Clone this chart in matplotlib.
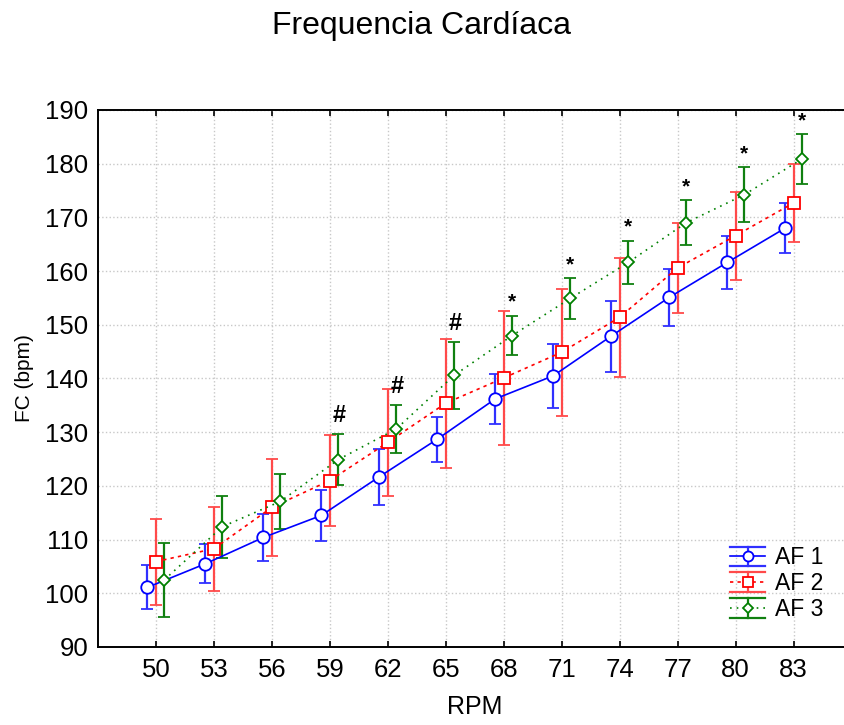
import numpy as np
import matplotlib
matplotlib.use('Agg')
import matplotlib.pyplot as plt
from matplotlib.legend_handler import HandlerBase
from matplotlib.lines import Line2D

plt.rcParams['font.family'] = ['Liberation Sans', 'DejaVu Sans']

# data
rpm = ['50', '53', '56', '59', '62', '65', '68', '71', '74', '77', '80', '83']

af1_mean = [101.1, 105.5, 110.4, 114.5, 121.7, 128.7, 136.2, 140.5, 147.9, 155.1, 161.6, 168.0]
af1_err = [4.1, 3.6, 4.4, 4.8, 5.2, 4.2, 4.6, 6.0, 6.6, 5.3, 5.0, 4.7]

af2_mean = [105.9, 108.3, 116.0, 121.0, 128.1, 135.4, 140.1, 144.9, 151.4, 160.6, 166.6, 172.7]
af2_err = [8.0, 7.8, 9.0, 8.5, 10.0, 12.0, 12.5, 11.8, 11.1, 8.4, 8.2, 7.2]

af3_mean = [102.5, 112.4, 117.1, 124.9, 130.6, 140.6, 148.0, 154.9, 161.6, 169.0, 174.2, 180.9]
af3_err = [6.9, 5.8, 5.2, 4.7, 4.4, 6.2, 3.7, 3.8, 4.0, 4.2, 5.1, 4.6]

# significance marks placed above AF 3
marks = ['', '', '', '#', '#', '#', '*', '*', '*', '*', '*', '*']


class StatHandler(HandlerBase):
    """legend key like the STATISTICA one: wide caps above and below"""

    def __init__(self, style):
        super().__init__()
        self.style = style

    def create_artists(self, legend, orig_handle, xdescent, ydescent, width,
                       height, fontsize, trans):
        col, ecol, ls, mk, ms = self.style
        cy = height / 2 - ydescent
        h = height * 0.62
        x0, x1 = -xdescent, width - xdescent
        xm = (x0 + x1) / 2
        arts = [
            Line2D([x0, x1], [cy + h, cy + h], color=ecol, lw=1.6),
            Line2D([x0, x1], [cy - h, cy - h], color=ecol, lw=1.6),
            Line2D([xm, xm], [cy - h, cy + h], color=ecol, lw=1.6),
            Line2D([x0, x1], [cy, cy], color=col, lw=1.2, linestyle=ls),
            Line2D([xm], [cy], marker=mk, markersize=ms, markerfacecolor='white',
                   markeredgecolor=col, markeredgewidth=1.3, linestyle='none'),
        ]
        for a in arts:
            a.set_transform(trans)
        return arts


fig = plt.figure(figsize=(8.44, 7.25), dpi=100)
ax = fig.add_axes([0.116, 0.1076, 0.893, 0.7407])

x = np.arange(len(rpm))
off = 0.146

series = [
    ('AF 1', af1_mean, af1_err, -off, '#0000ff', '#3030ff', '-', 'o', 9),
    ('AF 2', af2_mean, af2_err, 0.0, '#ff0000', '#ff4a4a', (0, (2, 2.5)), 's', 9),
    ('AF 3', af3_mean, af3_err, off, '#008000', '#108010', (0, (1, 3)), 'D', 6.5),
]

handles, labels, hmap = [], [], {}
for name, mean, err, dx, col, ecol, ls, mk, ms in series:
    cont = ax.errorbar(x + dx, mean, yerr=err, color=col, ecolor=ecol, linestyle=ls,
                       linewidth=1.2, marker=mk, markersize=ms, markerfacecolor='white',
                       markeredgecolor=col, markeredgewidth=1.3, elinewidth=1.6,
                       capsize=4, capthick=1.3, label=name, zorder=3)
    handles.append(cont)
    labels.append(name)
    hmap[cont] = StatHandler((col, ecol, ls, mk, ms * 0.8))

for i, m in enumerate(marks):
    if not m:
        continue
    top = af3_mean[i] + af3_err[i]
    if m == '#':
        ax.annotate(m, (x[i] + off, top), xytext=(1, 5), textcoords='offset points',
                    ha='center', va='bottom', fontsize=17, fontweight='bold')
    else:
        ax.annotate(m, (x[i] + off, top), xytext=(0, 3), textcoords='offset points',
                    ha='center', va='bottom', fontsize=15, fontweight='bold')

ax.set_xlim(-1, 12)
ax.set_ylim(90, 190)
ax.set_xticks(x)
ax.set_xticklabels(rpm)
ax.set_yticks(np.arange(90, 191, 10))
ax.tick_params(axis='both', labelsize=18.5, direction='in', length=4, width=1.2)
ax.tick_params(axis='x', top=True, pad=8)
ax.tick_params(axis='y', length=0, pad=7)
ax.grid(True, color='#c8c8c8', linestyle=':', linewidth=1.0)
ax.set_axisbelow(True)
ax.spines['right'].set_visible(False)
for s in ['left', 'bottom', 'top']:
    ax.spines[s].set_linewidth(1.4)

ax.set_xlabel('RPM', fontsize=18, labelpad=9)
ax.set_ylabel('FC (bpm)', fontsize=15, labelpad=8)
fig.suptitle('Frequencia Cardíaca', fontsize=23, y=0.985)

ax.legend(handles, labels, handler_map=hmap, loc='lower right',
          bbox_to_anchor=(0.99, 0.01), frameon=False, fontsize=16.5,
          handlelength=1.5, labelspacing=0.12, handletextpad=0.45)

fig.savefig('out.png', dpi=100)
